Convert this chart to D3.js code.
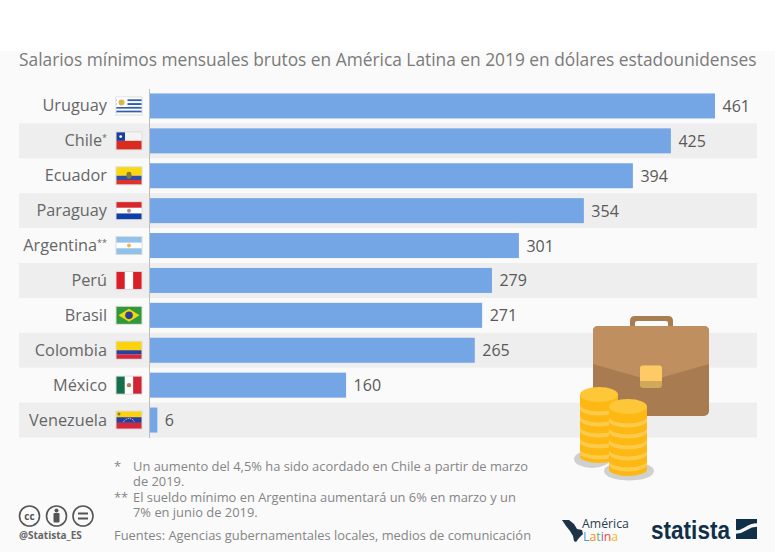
<!DOCTYPE html>
<html>
<head>
<meta charset="utf-8">
<script src="https://cdn.jsdelivr.net/npm/d3@7"></script>
<style>
  html, body { margin: 0; padding: 0; background: #fff; }
  svg { display: block; font-family: "Open Sans", sans-serif; }
</style>
</head>
<body>
<div id="chart"></div>
<script>
const countries = ["Uruguay", "Chile", "Ecuador", "Paraguay", "Argentina", "Perú", "Brasil", "Colombia", "México", "Venezuela"];
const salaries = [461, 425, 394, 354, 301, 279, 271, 265, 160, 6];
const marks = ["", "*", "", "", "**", "", "", "", "", ""];

const titleText = "Salarios mínimos mensuales brutos en América Latina en 2019 en dólares estadounidenses";
const noteChile = ["Un aumento del 4,5% ha sido acordado en Chile a partir de marzo", "de 2019."];
const noteArgentina = ["El sueldo mínimo en Argentina aumentará un 6% en marzo y un", "7% en junio de 2019."];
const sourceText = "Fuentes: Agencias gubernamentales locales, medios de comunicación";

const width = 775, height = 552;
const svg = d3.select("#chart").append("svg").attr("width", width).attr("height", height);

// page background starts under the white strip
svg.append("rect").attr("y", 51).attr("width", width).attr("height", height - 51).attr("fill", "#fafafa");

svg.append("text").attr("x", 19).attr("y", 66).attr("font-size", 17.33).attr("fill", "#7a7a7a").text(titleText);

const x = d3.scaleLinear().domain([0, 461]).range([150, 715]);
const y = d3.scaleBand().domain(countries).range([88.5, 437.5]).paddingInner(0).paddingOuter(0);
const barH = 25;

// grey stripes on every second row
svg.selectAll(".stripe")
  .data(countries.filter((d, i) => i % 2 === 1))
  .enter().append("rect")
  .attr("class", "stripe")
  .attr("x", 19).attr("width", 738)
  .attr("y", d => y(d)).attr("height", y.bandwidth())
  .attr("fill", "#eeeeee");

svg.selectAll(".bar")
  .data(salaries)
  .enter().append("rect")
  .attr("class", "bar")
  .attr("x", x(0))
  .attr("y", (d, i) => y(countries[i]) + (y.bandwidth() - barH) / 2)
  .attr("width", d => x(d) - x(0))
  .attr("height", barH)
  .attr("fill", "#74a5e4");

svg.append("line").attr("x1", 149.5).attr("x2", 149.5).attr("y1", 89).attr("y2", 438).attr("stroke", "#bdbdbd");

// value labels
svg.selectAll(".val")
  .data(salaries)
  .enter().append("text")
  .attr("class", "val")
  .attr("x", d => x(d) + 7.5)
  .attr("y", (d, i) => y(countries[i]) + y.bandwidth() / 2 + 6)
  .attr("font-size", 16)
  .attr("fill", "#595959")
  .text(d => d);

// country labels
const labels = svg.selectAll(".lab")
  .data(countries)
  .enter().append("text")
  .attr("class", "lab")
  .attr("x", 107)
  .attr("y", d => y(d) + y.bandwidth() / 2 + 5.5)
  .attr("text-anchor", "end")
  .attr("font-size", 16.3)
  .attr("fill", "#666666");
labels.append("tspan").text(d => d);
labels.append("tspan")
  .attr("font-size", 9).attr("dy", -5)
  .text((d, i) => marks[i]);

// flags
const flagW = 25, flagH = 17;
function hStripes(g, cols, weights) {
  const total = d3.sum(weights);
  let top = 0;
  cols.forEach((c, i) => {
    const h = flagH * weights[i] / total;
    g.append("rect").attr("y", top).attr("width", flagW).attr("height", h).attr("fill", c);
    top += h;
  });
}
function vStripes(g, cols) {
  cols.forEach((c, i) => {
    g.append("rect").attr("x", i * flagW / cols.length).attr("width", flagW / cols.length).attr("height", flagH).attr("fill", c);
  });
}
const flagDraw = {
  "Uruguay": g => {
    hStripes(g, ["#fff", "#2f5fb3", "#fff", "#2f5fb3", "#fff", "#2f5fb3", "#fff", "#2f5fb3", "#fff"], [1, 1, 1, 1, 1, 1, 1, 1, 1]);
    g.append("rect").attr("width", 11).attr("height", 9.5).attr("fill", "#fff");
    g.append("circle").attr("cx", 5).attr("cy", 5).attr("r", 3).attr("fill", "#d9b54a");
  },
  "Chile": g => {
    hStripes(g, ["#f4f4f4", "#d92b1e"], [1, 1]);
    g.append("rect").attr("width", 8.5).attr("height", 8.5).attr("fill", "#1b3f9c");
    g.append("circle").attr("cx", 4.2).attr("cy", 4.2).attr("r", 1.4).attr("fill", "#fff");
  },
  "Ecuador": g => {
    hStripes(g, ["#fcd90f", "#2f4fa8", "#e0322a"], [2, 1, 1]);
    g.append("ellipse").attr("cx", 12.5).attr("cy", 8).attr("rx", 2.6).attr("ry", 3.4).attr("fill", "#8a7a3a");
  },
  "Paraguay": g => {
    hStripes(g, ["#d8262c", "#fff", "#0f3fa8"], [1, 1, 1]);
    g.append("circle").attr("cx", 12.5).attr("cy", 8.5).attr("r", 2).attr("fill", "#b98a8a");
  },
  "Argentina": g => {
    hStripes(g, ["#8fc2ea", "#fff", "#8fc2ea"], [1, 1, 1]);
    g.append("circle").attr("cx", 12.5).attr("cy", 8.5).attr("r", 2).attr("fill", "#f2b45a");
  },
  "Perú": g => vStripes(g, ["#dc1f26", "#fff", "#dc1f26"]),
  "Brasil": g => {
    g.append("rect").attr("width", flagW).attr("height", flagH).attr("fill", "#2f9a3c");
    g.append("path").attr("d", `M12.5 2L23 8.5L12.5 15L2 8.5Z`).attr("fill", "#f4d515");
    g.append("circle").attr("cx", 12.5).attr("cy", 8.5).attr("r", 3.8).attr("fill", "#2b3f8c");
  },
  "Colombia": g => hStripes(g, ["#fcd20f", "#2b3f98", "#d8263a"], [2, 1, 1]),
  "México": g => {
    vStripes(g, ["#14704a", "#fff", "#d32436"]);
    g.append("circle").attr("cx", 12.5).attr("cy", 8.5).attr("r", 2.2).attr("fill", "#a9835a");
  },
  "Venezuela": g => {
    hStripes(g, ["#fcd20f", "#2b3f98", "#d8263a"], [1, 1, 1]);
    g.append("path").attr("d", "M7 10.5A6 6 0 0 1 18 10.5").attr("fill", "none").attr("stroke", "#fff").attr("stroke-width", 0.9).attr("stroke-dasharray", "1 1");
    g.append("circle").attr("cx", 2.5).attr("cy", 2.5).attr("r", 1.5).attr("fill", "#8a7a3a");
  }
};
countries.forEach(c => {
  const g = svg.append("g").attr("transform", `translate(116.5,${y(c) + y.bandwidth() / 2 - flagH / 2})`);
  svg.insert("rect", () => g.node()).attr("x", 115.5).attr("y", y(c) + y.bandwidth() / 2 - flagH / 2 - 1)
    .attr("width", flagW + 2).attr("height", flagH + 2).attr("fill", "#dcdcdc");
  flagDraw[c](g);
});

// briefcase
const bag = svg.append("g");
bag.append("path").attr("d", "M630 327V321Q630 316 635 316H668Q673 316 673 321V327H668V323Q668 321 666 321H637Q635 321 635 323V327Z").attr("fill", "#a87d50");
bag.append("rect").attr("x", 593).attr("y", 326).attr("width", 116).attr("height", 90).attr("rx", 5).attr("fill", "#a87c50");
bag.append("path").attr("d", "M598 326H704Q709 326 709 331V364L660 378H642L593 364V331Q593 326 598 326Z").attr("fill", "#bf8f60");
bag.append("rect").attr("x", 640).attr("y", 365.5).attr("width", 22).attr("height", 22.5).attr("rx", 3).attr("fill", "#d2a85a");
bag.append("path").attr("d", "M643 365.5H659Q662 365.5 662 368.5V381H640V368.5Q640 365.5 643 365.5Z").attr("fill", "#fdca66");

// coins
function coinStack(cx, top, bottom) {
  const rx = 19, ry = 6.5;
  const g = svg.append("g");
  g.append("path")
    .attr("d", `M${cx - rx} ${top + ry}V${bottom - ry}A${rx} ${ry} 0 0 0 ${cx + rx} ${bottom - ry}V${top + ry}Z`)
    .attr("fill", "#fdb813");
  d3.range(top + 17, bottom - 8, 11).forEach(yy => {
    g.append("path")
      .attr("d", `M${cx - rx} ${yy}A${rx} ${ry} 0 0 0 ${cx + rx} ${yy}V${yy + 4}A${rx} ${ry} 0 0 1 ${cx - rx} ${yy + 4}Z`)
      .attr("fill", "#fdcb4c");
  });
  g.append("ellipse").attr("cx", cx).attr("cy", top + ry).attr("rx", rx).attr("ry", ry + 1).attr("fill", "#fec738");
}
svg.append("ellipse").attr("cx", 592).attr("cy", 459).attr("rx", 18).attr("ry", 9).attr("fill", "#d0d0d0");
svg.append("ellipse").attr("cx", 629).attr("cy", 471).attr("rx", 25).attr("ry", 9.5).attr("fill", "#d0d0d0");
coinStack(599, 388, 463);
coinStack(628, 400, 476);

// footnotes, each one a single text with its wrapped lines
function note(mark, lines, yp) {
  const t = svg.append("text").attr("y", yp).attr("font-size", 12.9).attr("fill", "#858585");
  t.append("tspan").attr("x", 114).text(mark);
  lines.forEach((l, i) => {
    t.append("tspan").attr("x", 133).attr("y", yp + i * 15).text(l);
  });
}
note("*", noteChile, 471);
note("**", noteArgentina, 502);
svg.append("text").attr("x", 114).attr("y", 540).attr("font-size", 12.9).attr("fill", "#858585").text(sourceText);

// cc icons
const cc = svg.append("g").attr("fill", "none").attr("stroke", "#555").attr("stroke-width", 1.6);
[29.5, 56.5, 83].forEach(cx => cc.append("circle").attr("cx", cx).attr("cy", 516).attr("r", 10));
svg.append("text").attr("x", 29.5).attr("y", 519.5).attr("text-anchor", "middle").attr("font-size", 10).attr("font-weight", 700).attr("fill", "#555").text("cc");
svg.append("circle").attr("cx", 56.5).attr("cy", 510.5).attr("r", 2).attr("fill", "#555");
svg.append("rect").attr("x", 53.5).attr("y", 513).attr("width", 6).attr("height", 9.5).attr("rx", 1).attr("fill", "#555");
svg.append("rect").attr("x", 78).attr("y", 512.5).attr("width", 10).attr("height", 2).attr("fill", "#555");
svg.append("rect").attr("x", 78).attr("y", 517.5).attr("width", 10).attr("height", 2).attr("fill", "#555");
svg.append("text").attr("x", 19).attr("y", 539).attr("font-size", 10).attr("font-weight", 700).attr("fill", "#666").text("@Statista_ES");

// America Latina logo
svg.append("path")
  .attr("d", "M562 520L569 520L574 524L577 529L582 530L583 534L579 538L576 542L574 541L573 536L570 531L566 526Z")
  .attr("fill", "#1f3347");
const logo = svg.append("text").attr("font-size", 12.3);
logo.append("tspan").attr("x", 582).attr("y", 528).attr("fill", "#2c3e50").text("América");
logo.append("tspan").attr("x", 583).attr("y", 541).attr("fill", "#3f9be0").text("L");
["a", "t", "i", "n", "a"].forEach((ch, i) => {
  logo.append("tspan").attr("fill", ["#f28c28", "#5cb85c", "#9b59b6", "#e74c3c", "#f5b81f"][i]).text(ch);
});

// statista logo
svg.append("text").attr("x", 651).attr("y", 539).attr("font-size", 26).attr("font-weight", 700)
  .attr("font-family", "'Liberation Sans Narrow', 'Liberation Sans', sans-serif")
  .attr("fill", "#10304a").attr("textLength", 79).attr("lengthAdjust", "spacingAndGlyphs").text("statista");
svg.append("rect").attr("x", 736).attr("y", 519).attr("width", 21).attr("height", 20).attr("fill", "#10304a");
svg.append("path").attr("d", "M736 532C746 532 746 525 757 525").attr("fill", "none").attr("stroke", "#fafafa").attr("stroke-width", 3.5);
</script>
</body>
</html>
